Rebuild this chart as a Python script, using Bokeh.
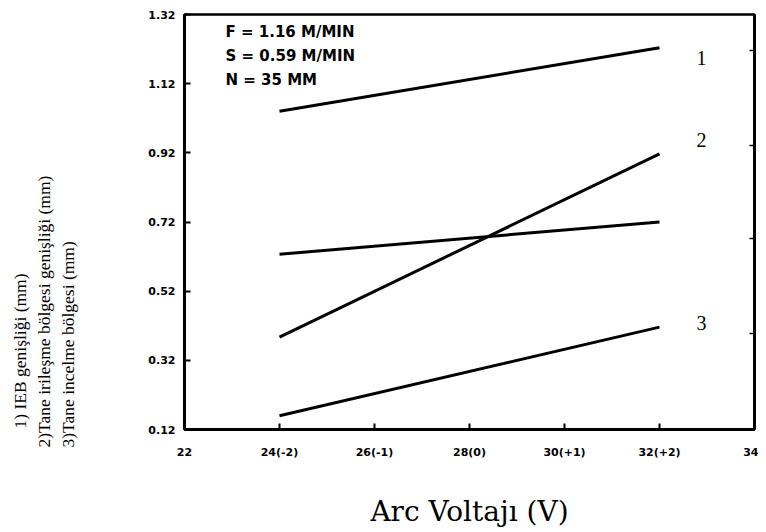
import math
from bokeh.plotting import figure
from bokeh.models import Label, LinearAxis, FixedTicker, Range1d, Title
from bokeh.embed import file_html
from bokeh.resources import INLINE

# ---- data ----
voltage = [24, 32]
ieb_width = [1.040, 1.224]          # line 1
irilesme_width = [0.387, 0.917]     # line 2
incelme_width = [0.160, 0.416]      # line 3
other_line = [0.627, 0.720]         # unlabelled line

x_ticks = [22, 24, 26, 28, 30, 32, 34]
x_tick_labels = ["22", "24(-2)", "26(-1)", "28(0)", "30(+1)", "32(+2)", "34"]
y_ticks = [0.12, 0.32, 0.52, 0.72, 0.92, 1.12, 1.32]
y_tick_labels = ["0.12", "0.32", "0.52", "0.72", "0.92", "1.12", "1.32"]
right_ticks = [0.398, 0.671, 0.94, 1.216]

params = ["F = 1.16 M/MIN", "S = 0.59 M/MIN", "N = 35 MM"]
y_titles = ["1) IEB genişliği (mm)",
            "2)Tane irileşme bölgesi genişliği (mm)",
            "3)Tane incelme bölgesi (mm)"]
x_title = "Arc Voltajı (V)"

p = figure(width=758, height=530,
           x_range=Range1d(22, 34), y_range=Range1d(0.12, 1.32),
           output_backend="svg", toolbar_location=None,
           min_border_left=184, min_border_right=4,
           min_border_top=14, min_border_bottom=101)

p.xgrid.visible = False
p.ygrid.visible = False
p.outline_line_color = "black"
p.outline_line_width = 2.5
p.outline_line_alpha = 1.0

for ax in (p.xaxis[0], p.yaxis[0]):
    ax.axis_line_width = 3
    ax.axis_line_color = "black"
    ax.major_tick_in = 6
    ax.major_tick_out = 0
    ax.major_tick_line_width = 2
    ax.minor_tick_line_color = None
    ax.major_label_text_font = "DejaVu Sans"
    ax.major_label_text_font_style = "bold"
    ax.major_label_text_font_size = "11px"
    ax.major_label_text_color = "black"

p.xaxis[0].ticker = FixedTicker(ticks=x_ticks)
p.xaxis[0].major_label_overrides = {t: l for t, l in zip(x_ticks, x_tick_labels)}
p.xaxis[0].major_label_standoff = 16
p.xaxis[0].axis_label = x_title
p.xaxis[0].axis_label_standoff = 33
p.xaxis[0].axis_label_text_font = "DejaVu Serif"
p.xaxis[0].axis_label_text_font_size = "28px"
p.xaxis[0].axis_label_text_font_style = "normal"
p.xaxis[0].axis_label_text_color = "black"

p.yaxis[0].ticker = FixedTicker(ticks=y_ticks)
p.yaxis[0].major_label_overrides = {t: l for t, l in zip(y_ticks, y_tick_labels)}
p.yaxis[0].major_label_standoff = 9

right = LinearAxis(ticker=FixedTicker(ticks=right_ticks),
                   major_label_overrides={t: "" for t in right_ticks},
                   major_label_text_font_size="1px", major_label_standoff=0,
                   major_tick_in=5, major_tick_out=0, major_tick_line_width=1.5,
                   minor_tick_line_color=None, axis_line_width=3)
p.add_layout(right, "right")

for ys in (ieb_width, irilesme_width, incelme_width, other_line):
    p.line(voltage, ys, line_color="black", line_width=3)

for lbl, ys, dy in (("1", ieb_width, -10), ("2", irilesme_width, 14), ("3", incelme_width, 4)):
    p.add_layout(Label(x=voltage[-1], y=ys[-1], x_offset=42, y_offset=dy,
                       text=lbl, text_font="Liberation Serif", text_font_size="20px",
                       text_color="black", text_align="center", text_baseline="middle"))

for i, t in enumerate(params):
    p.add_layout(Label(x=41, y=398 - i * 24, x_units="screen", y_units="screen",
                       text=t, text_font="DejaVu Sans", text_font_style="bold",
                       text_font_size="15px", text_color="black",
                       text_align="left", text_baseline="middle"))

# spacer between the tick labels and the stacked y titles
p.add_layout(Title(text=" ", text_font_size="13px", standoff=50), "left")
for i in (2, 1, 0):
    p.add_layout(Title(text=y_titles[i], align="left", offset=(1 if i == 0 else -18),
                       standoff=2, text_font="Liberation Serif",
                       text_font_size="17.5px", text_font_style="normal",
                       text_color="black"), "left")

open("out.html", "w").write(file_html(p, INLINE))
